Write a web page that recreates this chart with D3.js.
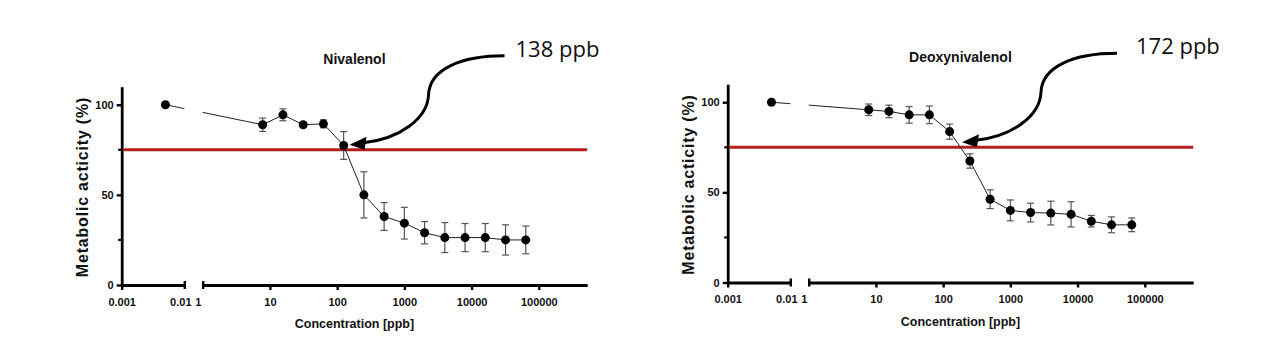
<!DOCTYPE html>
<html>
<head>
	<title>Metabolic activity</title>
	<meta charset='utf-8'>
	<style>
		body {
			margin: 0;
			background: #fff;
		}

		.axis text {
			font-family: 'Liberation Sans', Arial, sans-serif;
			font-weight: bold;
			font-size: 11px;
			fill: #111;
		}

		.series {
			fill: none;
			stroke: #222;
			stroke-width: 1px;
		}

		.errbar {
			stroke: #555;
			stroke-width: 1.2px;
		}

		.threshold {
			stroke: #b3201e;
			stroke-width: 3px;
		}

		.title,
		.axis-label {
			font-family: 'Liberation Sans', Arial, sans-serif;
			font-weight: bold;
			fill: #111;
		}

		.note {
			font-family: 'Open Sans', sans-serif;
			font-size: 22px;
			fill: #111;
		}

		.arrow {
			fill: none;
			stroke: #000;
			stroke-width: 3px;
		}
	</style>
</head>
<body>

<script src='https://cdn.jsdelivr.net/npm/d3@7'></script>
<script>
	'use strict';

	// data
	const concentrations = [7.8125, 15.625, 31.25, 62.5, 125, 250, 500, 1000, 2000, 4000, 8000, 16000, 32000, 64000];
	const controlConcentration = 0.005;
	const controlValue = 100;

	const nivalenolMean = [88.9, 94.4, 88.9, 89.4, 77.4, 50, 38, 34.3, 29, 26.3, 26.3, 26.3, 25, 25];
	const nivalenolSd = [3.7, 3.3, 1.2, 2.2, 7.7, 12.8, 7.7, 8.8, 6.2, 8.3, 7.8, 7.8, 8.4, 7.7];

	const deoxynivalenolMean = [95.8, 94.9, 93, 93, 83.7, 67.4, 46.2, 40, 38.8, 38.5, 37.8, 34, 32, 32];
	const deoxynivalenolSd = [3.2, 3.5, 4.6, 4.9, 4.2, 4, 5.2, 5.8, 5.2, 6.6, 7, 3.2, 4.4, 3.8];

	const titles = ['Nivalenol', 'Deoxynivalenol'];
	const icValues = [138, 172];
	const icLabels = ['138 ppb', '172 ppb'];
	const threshold = 75;

	const yTicks = [0, 50, 100];
	const yMinorTicks = [25, 75];
	const xTicksLow = [0.001, 0.01];
	const xTicksHigh = [1, 10, 100, 1000, 10000, 100000];

	const yLabel = 'Metabolic acticity (%)';
	const xLabel = 'Concentration [ppb]';

	// layout
	const panelOffsets = [{x: 121.7, y: 0, note: 166}, {x: 727.7, y: -2.5, note: 174}];
	const lowWidth = 62.6;
	const highStart = 81;
	const highEnd = 465.5;
	const axisWidth = 2.8;

	const svg = d3.select('body').append('svg')
		.attr('width', 1280)
		.attr('height', 352);

	const yScale = d3.scaleLinear().domain([0, 110]).range([285, 86.7]);
	const xLow = d3.scaleLog().domain([0.001, 0.01]).range([0, lowWidth]);
	const xHigh = d3.scaleLog().domain([1, 525000]).range([highStart, highEnd]);
	const xPos = function(c) {return c < 0.1 ? xLow(c) : xHigh(c);};

	const series = [
		{mean: nivalenolMean, sd: nivalenolSd},
		{mean: deoxynivalenolMean, sd: deoxynivalenolSd}
	];

	function thicken(ax) {
		ax.select('.domain').style('stroke', '#000').style('stroke-width', axisWidth + 'px');
		ax.selectAll('.tick line').style('stroke', '#000').style('stroke-width', '2.4px');
	}

	series.forEach(function(s, i) {
		const off = panelOffsets[i];
		const g = svg.append('g')
			.attr('transform', 'translate(' + off.x + ',' + off.y + ')');

		const points = concentrations.map(function(c, j) {
			return {c: c, v: s.mean[j], sd: s.sd[j]};
		});
		const allPoints = [{c: controlConcentration, v: controlValue, sd: 0}].concat(points);

		// clip for the axis break
		const clipId = 'clip' + i;
		const clip = g.append('clipPath').attr('id', clipId);
		clip.append('rect').attr('x', -20).attr('y', 0).attr('width', lowWidth + 20).attr('height', 352);
		clip.append('rect').attr('x', highStart).attr('y', 0).attr('width', 500).attr('height', 352);

		// y axis
		const yAx = g.append('g')
			.attr('class', 'axis')
			.call(d3.axisLeft(yScale)
				.tickValues(yTicks)
				.tickSizeInner(5)
				.tickSizeOuter(0)
				.tickPadding(3)
			);
		thicken(yAx);

		g.selectAll('.minor')
			.data(yMinorTicks)
			.enter().append('line')
			.attr('class', 'minor')
			.attr('x1', -3.5)
			.attr('x2', 0)
			.attr('y1', function(d) {return yScale(d);})
			.attr('y2', function(d) {return yScale(d);})
			.attr('stroke', '#000')
			.attr('stroke-width', 2.2);

		// x axis in two segments
		const y0 = yScale(0);
		const capTicks = [0.01, 1];

		[[xLow, xTicksLow], [xHigh, xTicksHigh]].forEach(function(pair) {
			const ax = g.append('g')
				.attr('class', 'axis')
				.attr('transform', 'translate(0,' + y0 + ')')
				.call(d3.axisBottom(pair[0])
					.tickValues(pair[1])
					.tickFormat(function(d) {return String(d);})
					.tickSizeInner(5)
					.tickSizeOuter(0)
					.tickPadding(8)
				);
			thicken(ax);
			ax.selectAll('.tick line')
				.attr('y1', function(d) {return capTicks.indexOf(d) >= 0 ? -4 : 0;})
				.attr('y2', function(d) {return capTicks.indexOf(d) >= 0 ? 4 : 5;});
			ax.selectAll('.tick text')
				.attr('dx', function(d) {return d === 0.01 ? -4 : (d === 1 ? -5 : 0);});
		});

		// threshold
		g.append('line')
			.attr('class', 'threshold')
			.attr('x1', 1.5)
			.attr('x2', highEnd)
			.attr('y1', yScale(threshold))
			.attr('y2', yScale(threshold));

		// connecting line
		g.append('path')
			.datum(allPoints)
			.attr('class', 'series')
			.attr('clip-path', 'url(#' + clipId + ')')
			.attr('d', d3.line()
				.x(function(d) {return xPos(d.c);})
				.y(function(d) {return yScale(d.v);})
			);

		// error bars
		const eb = g.selectAll('.eb')
			.data(points)
			.enter().append('g')
			.attr('class', 'errbar');

		eb.append('line')
			.attr('x1', function(d) {return xPos(d.c);})
			.attr('x2', function(d) {return xPos(d.c);})
			.attr('y1', function(d) {return yScale(d.v + d.sd);})
			.attr('y2', function(d) {return yScale(d.v - d.sd);});

		[1, -1].forEach(function(sign) {
			eb.append('line')
				.attr('x1', function(d) {return xPos(d.c) - 3.5;})
				.attr('x2', function(d) {return xPos(d.c) + 3.5;})
				.attr('y1', function(d) {return yScale(d.v + sign * d.sd);})
				.attr('y2', function(d) {return yScale(d.v + sign * d.sd);});
		});

		// markers
		g.selectAll('.dot')
			.data(allPoints)
			.enter().append('circle')
			.attr('class', 'dot')
			.attr('cx', function(d) {return xPos(d.c);})
			.attr('cy', function(d) {return yScale(d.v);})
			.attr('r', 4.5)
			.attr('fill', '#000');

		// titles and labels
		g.append('text')
			.attr('class', 'title')
			.attr('x', highEnd / 2)
			.attr('y', 64)
			.attr('text-anchor', 'middle')
			.attr('font-size', 14)
			.text(titles[i]);

		g.append('text')
			.attr('class', 'axis-label')
			.attr('x', highEnd / 2)
			.attr('y', 328)
			.attr('text-anchor', 'middle')
			.attr('font-size', 12.5)
			.text(xLabel);

		g.append('text')
			.attr('class', 'axis-label')
			.attr('transform', 'translate(-34,' + 187 + ') rotate(-90)')
			.attr('text-anchor', 'middle')
			.attr('font-size', 16)
			.attr('letter-spacing', 0.8)
			.text(yLabel);

		// annotation arrow
		const tx = xHigh(icValues[i]) + 3;
		const ty = yScale(threshold) - 5;
		const a = g.append('g')
			.attr('transform', 'translate(' + tx + ',' + ty + ')');

		a.append('path')
			.attr('class', 'arrow')
			.attr('d', 'M155,-89 C112,-89 80,-76 79,-50 C78,-26 50,-6 14,-2');

		a.append('polygon')
			.attr('points', '0,0 17,-8 15,5')
			.attr('fill', '#000');

		a.append('text')
			.attr('class', 'note')
			.attr('x', off.note)
			.attr('y', -88)
			.text(icLabels[i]);
	});
</script>
</body>
</html>
